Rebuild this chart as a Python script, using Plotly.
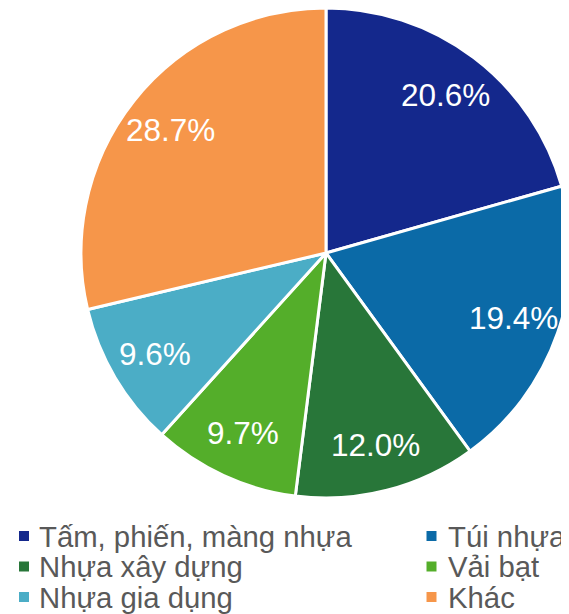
import math
import plotly.graph_objects as go

labels = ["Tấm, phiến, màng nhựa", "Túi nhựa", "Nhựa xây dựng", "Vải bạt", "Nhựa gia dụng", "Khác"]
values = [20.6, 19.4, 12.0, 9.7, 9.6, 28.7]
colors = ["#14288C", "#0B6AA7", "#287639", "#54AE2A", "#4BADC6", "#F6964A"]

# page body has an 8px default margin; the figure is offset by it
W, H = 563, 606
OFF = 8

FONT = "Liberation Sans, Arial, sans-serif"
dom_px_x = [73, W]        # pie domain in figure pixels
dom_px_y = [0, 490]
dom = dict(x=[dom_px_x[0] / W, dom_px_x[1] / W], y=[1 - dom_px_y[1] / H, 1 - dom_px_y[0] / H])

fig = go.Figure()
fig.add_trace(go.Pie(
    labels=labels, values=values, sort=False, direction="clockwise", rotation=0,
    marker=dict(colors=colors, line=dict(color="white", width=3)),
    textinfo="none", domain=dom, showlegend=False, hoverinfo="label+percent",
))

# percentage labels placed toward the rim (Excel best-fit look), derived from the values
cx = (dom_px_x[0] + dom_px_x[1]) / 2
cy = (dom_px_y[0] + dom_px_y[1]) / 2
radius = min(dom_px_x[1] - dom_px_x[0], dom_px_y[1] - dom_px_y[0]) / 2
label_r = 0.81
total = sum(values)
annotations = []
cum = 0.0
for v in values:
    mid = (cum + v / 2) / total * 2 * math.pi
    cum += v
    px = cx + label_r * radius * math.sin(mid)
    py = cy - label_r * radius * math.cos(mid)
    annotations.append(dict(text=f"{v:.1f}%", xref="paper", yref="paper",
                            x=px / W, y=1 - py / H, xanchor="center", yanchor="middle",
                            showarrow=False, font=dict(family=FONT, size=31.5, color="white")))

# Excel-style two-column legend built from the same labels/colors
col_x = [24 - OFF, 431.5 - OFF]
text_x = [37 - OFF, 446 - OFF]
row_y = [536 - OFF, 566.5 - OFF, 597 - OFF]
shapes = []
for i, (lab, col) in enumerate(zip(labels, colors)):
    r, c = divmod(i, 2)
    sx, sy = col_x[c], row_y[r]
    shapes.append(dict(type="rect", xref="paper", yref="paper",
                       x0=(sx - 5) / W, x1=(sx + 5) / W,
                       y0=1 - (sy + 5) / H, y1=1 - (sy - 5) / H,
                       fillcolor=col, line=dict(width=0)))
    annotations.append(dict(text=lab, xref="paper", yref="paper",
                            x=text_x[c] / W, y=1 - sy / H,
                            xanchor="left", yanchor="middle", showarrow=False,
                            font=dict(family=FONT, size=29.3, color="#595959")))

fig.update_layout(
    width=W, height=H,
    margin=dict(l=0, r=0, t=0, b=0),
    paper_bgcolor="white", plot_bgcolor="white",
    shapes=shapes, annotations=annotations,
)

fig.write_html("out.html")
